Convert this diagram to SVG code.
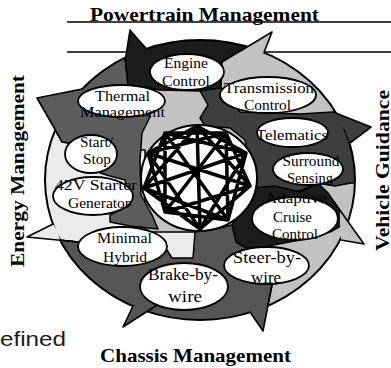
<svg xmlns="http://www.w3.org/2000/svg" width="391" height="368" viewBox="0 0 391 368">
<defs>
<clipPath id="ring"><ellipse cx="200" cy="180" rx="155" ry="140"/></clipPath>
<style>
.reg{stroke:#000;stroke-width:1.5;stroke-linejoin:round}
.edge{fill:none;stroke:#000;stroke-width:1.6;stroke-linejoin:round}
.ne{fill:#fff;stroke:#000;stroke-width:1.8}
.nt{font-family:"Liberation Serif","Times New Roman",serif;font-size:15.5px;fill:#000;text-anchor:middle}
.big{font-size:16.5px}
.title{font-family:"Liberation Serif","Times New Roman",serif;font-weight:bold;font-size:19px;fill:#000}
.lg{fill:#c2c2c2}.vl{fill:#ebebeb}.dg{fill:#5c5c5c}.dk{fill:#3e3e3e}.bk{fill:#1c1c1c}.cg{fill:#555}
.hline{stroke:#000;stroke-width:1.6}
</style>
</defs>
<rect width="391" height="368" fill="#fff"/>
<line class="hline" x1="67" y1="22" x2="391" y2="22"/>
<line class="hline" x1="67" y1="52" x2="391" y2="52"/>

<g id="ring-regions" clip-path="url(#ring)">
<ellipse class="lg" cx="200" cy="180" rx="155" ry="140"/>
<path class="reg vl" d="M78,242 L10,235 L10,150 L45,112 L62,142 L110,150 L145,150 L145,232 L195,232 L195,258 L165,262 L120,262 Z"/>
<path class="reg dg" d="M62,142 L45,112 L30,60 L122,10 L125,57 L128,85 L150,95 L150,117 L142,133 L140,160 L141,195 L152,215 L158,229 L130,226 L110,222 L110,215 L130,205 L125,180 L110,176 L100,173 L110,160 L90,140 L70,143 Z"/>
<path class="reg bk" d="M125,57 L122,10 L308,10 L222,62 L221,88 L200,91 L160,90 L128,85 Z"/>
<path class="reg dk" d="M200,91 L221,88 L226,92 L240,112 L300,114 L333,112 L385,133 L385,183 L351,183 L335,186 L318,183 L300,191 L256,190 L250,170 L245,140 L230,128 L205,126 L200,118 L208,105 Z"/>
<path class="reg cg" d="M232,225 L240,245 L262,250 L272,285 L260,345 L110,345 L10,300 L10,235 L78,242 L122,262 L167,250 L172,258 L193,258 L195,232 L215,229 Z"/>
<path class="reg bk" d="M252,188 L275,186 L300,192 L318,183 L328,193 L348,222 L330,232 L300,240 L268,246 L250,250 L236,242 L232,225 L240,208 Z"/>
</g>
<ellipse cx="200" cy="180" rx="155" ry="140" fill="none" stroke="#000" stroke-width="2"/>

<g id="arrowheads">
<path class="bk" d="M125,64 L130,30 L147,48 L147,58 Z"/>
<path class="edge" d="M125,62 L130,30 L146,49"/>
<path class="lg" d="M240,51.2 L272,32 L264,52.5 L250,56 Z"/>
<path class="edge" d="M240,51.2 L272,32 L264,52.5"/>
<path class="dg" d="M60,138 L37,98 L82,89 L82,100 L62,125 Z"/>
<path class="edge" d="M60,138 L37,98 L82,89"/>
<path class="dk" d="M333,112 L371,127 L350,143 L345,130 L333,117 Z"/>
<path class="edge" d="M333,112 L371,127 L350,143"/>
<path class="lg" d="M340,210.4 L364,244 L341,240 L340,225 Z"/>
<path class="edge" d="M334,202 L364,244 L341,240"/>
<path class="cg" d="M268,305 L263,331 L250,312 L258,306 Z"/>
<path class="edge" d="M272,285 L263,331 L250,312"/>
<path class="cg" d="M148,311 L123,327 L133,306 L143,306 Z"/>
<path class="edge" d="M157,305 L123,327 L133,306"/>
<path class="vl" d="M60,240.5 L27,237 L53,224 L58,232 Z"/>
<path class="edge" d="M78,242 L27,237 L53,224"/>
</g>

<g id="hub">
<ellipse cx="199" cy="178" rx="58" ry="53" fill="#fff" stroke="#000" stroke-width="2"/>
</g>

<g id="connectors" fill="none" stroke="#000" stroke-width="3.5" stroke-linecap="round">
<path d="M197,126 L246,153 M226,133 L250,186 M246,153 L228,220 M250,186 L200,229 M228,220 L165,212 M200,229 L144,188 M165,212 L148,153 M144,188 L165,133 M148,153 L197,126 M165,133 L226,133
M197,126 L250,186 M226,133 L228,220 M246,153 L200,229 M250,186 L165,212 M228,220 L144,188 M200,229 L148,153 M165,212 L165,133 M144,188 L197,126 M148,153 L226,133 M165,133 L246,153
M197,126 L200,229 M226,133 L165,212 M246,153 L144,188 M250,186 L148,153 M228,220 L165,133"/>
</g>

<g id="n-engine"><ellipse class="ne" cx="187" cy="72" rx="37" ry="18"/><text class="nt" font-family="Liberation Serif, serif" x="186" y="68" textLength="44" lengthAdjust="spacingAndGlyphs">Engine</text><text class="nt" font-family="Liberation Serif, serif" x="186" y="85.5" textLength="48" lengthAdjust="spacingAndGlyphs">Control</text></g>
<g id="n-thermal"><ellipse class="ne" cx="121.5" cy="101" rx="43.5" ry="16"/><text class="nt" font-family="Liberation Serif, serif" x="122.5" y="100.5" textLength="55" lengthAdjust="spacingAndGlyphs">Thermal</text><text class="nt" font-family="Liberation Serif, serif" x="122.5" y="117" textLength="85" lengthAdjust="spacingAndGlyphs">Management</text></g>
<g id="n-transmission"><ellipse class="ne" cx="268" cy="95" rx="48" ry="18"/><text class="nt" font-family="Liberation Serif, serif" x="269" y="92.5" textLength="90" lengthAdjust="spacingAndGlyphs">Transmission</text><text class="nt" font-family="Liberation Serif, serif" x="267.5" y="110" textLength="47" lengthAdjust="spacingAndGlyphs">Control</text></g>
<g id="n-telematics"><ellipse class="ne" cx="292.5" cy="132.5" rx="35.5" ry="14.5"/><text class="nt" font-family="Liberation Serif, serif" x="292" y="139.5" textLength="72" lengthAdjust="spacingAndGlyphs">Telematics</text></g>
<g id="n-surround"><ellipse class="ne" cx="308" cy="169" rx="35" ry="16"/><text class="nt" font-family="Liberation Serif, serif" x="311" y="166" textLength="57" lengthAdjust="spacingAndGlyphs">Surround</text><text class="nt" font-family="Liberation Serif, serif" x="310" y="183" textLength="46" lengthAdjust="spacingAndGlyphs">Sensing</text></g>
<g id="n-acc"><ellipse class="ne" cx="295" cy="218.5" rx="43" ry="21.5"/><text class="nt" font-family="Liberation Serif, serif" x="296" y="203" textLength="62" lengthAdjust="spacingAndGlyphs">Adaptive</text><text class="nt" font-family="Liberation Serif, serif" x="292.5" y="221.5" textLength="39" lengthAdjust="spacingAndGlyphs">Cruise</text><text class="nt" font-family="Liberation Serif, serif" x="295" y="238.5" textLength="46" lengthAdjust="spacingAndGlyphs">Control</text></g>
<g id="n-steer"><ellipse class="ne" cx="266.5" cy="265.5" rx="42.5" ry="18.5"/><text class="nt big" font-family="Liberation Serif, serif" x="267" y="263" textLength="68" lengthAdjust="spacingAndGlyphs">Steer-by-</text><text class="nt big" font-family="Liberation Serif, serif" x="266" y="282.5" textLength="30" lengthAdjust="spacingAndGlyphs">wire</text></g>
<g id="n-brake"><ellipse class="ne" cx="184" cy="286.5" rx="44" ry="23.5"/><text class="nt big" font-family="Liberation Serif, serif" x="183" y="280" textLength="70" lengthAdjust="spacingAndGlyphs">Brake-by-</text><text class="nt big" font-family="Liberation Serif, serif" x="185" y="302" textLength="34" lengthAdjust="spacingAndGlyphs">wire</text></g>
<g id="n-hybrid"><ellipse class="ne" cx="122.5" cy="246.5" rx="44.5" ry="19.5"/><text class="nt" font-family="Liberation Serif, serif" x="124.5" y="243" textLength="55" lengthAdjust="spacingAndGlyphs">Minimal</text><text class="nt" font-family="Liberation Serif, serif" x="125" y="262" textLength="44" lengthAdjust="spacingAndGlyphs">Hybrid</text></g>
<g id="n-42v"><ellipse class="ne" cx="93" cy="196" rx="40" ry="19"/><text class="nt" font-family="Liberation Serif, serif" x="96" y="190" textLength="82" lengthAdjust="spacingAndGlyphs">42V Starter</text><text class="nt" font-family="Liberation Serif, serif" x="99" y="208" textLength="62" lengthAdjust="spacingAndGlyphs">Generator</text></g>
<g id="n-startstop"><ellipse class="ne" cx="91" cy="154" rx="26" ry="19"/><text class="nt" font-family="Liberation Serif, serif" x="96.5" y="147" textLength="33" lengthAdjust="spacingAndGlyphs">Start/</text><text class="nt" font-family="Liberation Serif, serif" x="97" y="164" textLength="28" lengthAdjust="spacingAndGlyphs">Stop</text></g>

<g id="labels">
<text class="title" x="90" y="20.5" textLength="229" lengthAdjust="spacingAndGlyphs">Powertrain Management</text>
<text class="title" x="100" y="362" textLength="191" lengthAdjust="spacingAndGlyphs">Chassis Management</text>
<text class="title" transform="translate(24,267) rotate(-90)" textLength="192" lengthAdjust="spacingAndGlyphs">Energy Management</text>
<text class="title" font-size="18" transform="translate(388.5,251) rotate(-90)" textLength="161" lengthAdjust="spacingAndGlyphs">Vehicle Guidance</text>
<text x="0" y="346" font-family="Liberation Sans, Arial, sans-serif" font-size="21" fill="#1a1a1a" textLength="66" lengthAdjust="spacingAndGlyphs">efined</text>
</g>
</svg>
